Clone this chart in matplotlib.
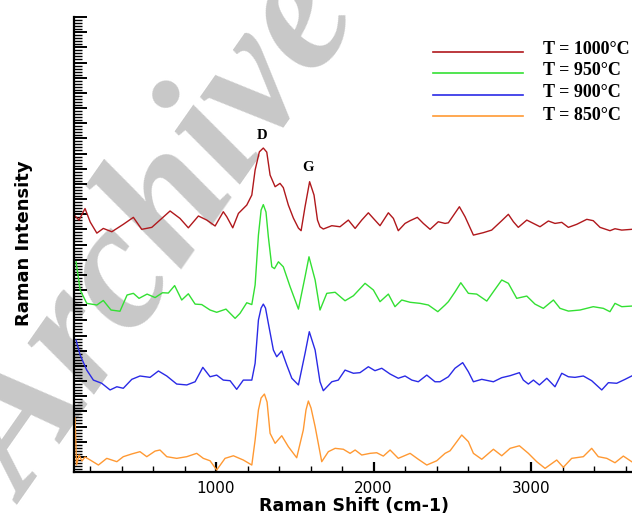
import matplotlib
matplotlib.use("Agg")
import matplotlib.pyplot as plt
from matplotlib.lines import Line2D
from matplotlib.ticker import MultipleLocator

# Raman spectra (intensity in arbitrary units, offset per temperature)
x_1000 = [105, 130, 168, 201, 243, 284, 338, 411, 475, 528, 592, 708, 771, 824, 888, 941,
          994, 1046, 1068, 1106, 1142, 1195, 1227, 1248, 1275, 1300, 1322, 1343, 1375, 1406,
          1427, 1459, 1491, 1523, 1540, 1565, 1594, 1622, 1644, 1660, 1681, 1735, 1787, 1840,
          1883, 1925, 1967, 1999, 2041, 2094, 2126, 2157, 2200, 2232, 2278, 2316, 2359, 2411,
          2454, 2475, 2545, 2581, 2634, 2697, 2750, 2814, 2856, 2888, 2919, 2973, 3057, 3110,
          3152, 3195, 3237, 3290, 3354, 3395, 3438, 3501, 3533, 3576, 3639]
y_1000 = [16.88, 16.61, 17.37, 16.48, 15.75, 16.06, 15.84, 16.33, 16.79, 16.00, 16.13, 17.21,
          16.72, 16.10, 16.88, 16.61, 16.22, 17.16, 16.83, 16.10, 17.05, 17.60, 18.26, 19.91,
          21.11, 21.36, 21.09, 19.58, 18.81, 19.03, 18.75, 17.60, 16.74, 16.08, 15.91, 17.49,
          19.14, 18.26, 16.61, 16.17, 16.02, 16.24, 16.17, 16.61, 16.06, 16.61, 17.09, 16.72,
          16.24, 17.09, 16.72, 15.91, 16.39, 16.57, 16.79, 16.39, 16.00, 16.50, 16.39, 16.43,
          17.49, 16.83, 15.62, 15.78, 15.95, 16.57, 16.99, 16.50, 16.13, 16.61, 16.17, 16.55,
          16.39, 16.46, 16.13, 16.33, 16.66, 16.57, 16.13, 15.91, 16.04, 15.95, 16.00]

x_950 = [111, 137, 179, 243, 284, 333, 390, 435, 475, 511, 562, 613, 660, 697, 737, 782, 824,
         867, 909, 962, 1004, 1063, 1121, 1152, 1195, 1227, 1248, 1269, 1286, 1300, 1317, 1332,
         1354, 1371, 1396, 1427, 1470, 1523, 1565, 1590, 1629, 1660, 1703, 1756, 1819, 1872,
         1946, 1999, 2041, 2094, 2136, 2179, 2232, 2295, 2348, 2408, 2454, 2475, 2517, 2554,
         2602, 2655, 2719, 2761, 2814, 2856, 2909, 2973, 3025, 3078, 3142, 3184, 3237, 3311,
         3395, 3459, 3501, 3533, 3576, 3639]
y_950 = [13.86, 12.00, 11.12, 11.01, 11.31, 10.68, 10.60, 11.67, 11.78, 11.45, 11.73, 11.50,
         11.82, 11.80, 12.29, 11.34, 11.75, 11.07, 11.04, 10.68, 10.53, 10.74, 10.13, 10.46,
         11.16, 11.04, 12.33, 15.62, 17.27, 17.63, 17.14, 15.51, 13.53, 13.41, 13.86, 13.53,
         12.22, 10.74, 12.87, 14.19, 12.66, 10.68, 11.78, 11.85, 11.29, 11.62, 12.44, 12.00,
         11.23, 11.73, 10.90, 11.34, 11.19, 11.12, 11.01, 10.57, 11.01, 11.23, 11.87, 12.48,
         11.78, 11.73, 11.27, 11.89, 12.66, 12.44, 11.45, 11.60, 11.07, 10.79, 11.34, 10.79,
         10.61, 10.68, 10.90, 10.79, 10.57, 11.12, 10.90, 10.94]

x_900 = [111, 137, 179, 221, 274, 327, 370, 411, 465, 517, 581, 634, 687, 750, 814, 867, 916,
         962, 1004, 1046, 1089, 1131, 1173, 1227, 1248, 1269, 1286, 1300, 1314, 1332, 1364,
         1385, 1417, 1449, 1481, 1523, 1565, 1592, 1629, 1660, 1681, 1735, 1776, 1819, 1872,
         1914, 1967, 2009, 2052, 2105, 2157, 2200, 2243, 2284, 2338, 2390, 2422, 2475, 2517,
         2566, 2602, 2634, 2687, 2761, 2814, 2867, 2926, 2951, 2983, 3015, 3053, 3100, 3152,
         3195, 3237, 3279, 3332, 3385, 3449, 3491, 3544, 3597, 3639]
y_900 = [8.70, 7.71, 6.72, 6.06, 5.85, 5.41, 5.62, 5.52, 6.11, 6.33, 6.24, 6.66, 6.33, 5.80,
         5.74, 5.95, 6.90, 6.28, 6.39, 6.06, 6.02, 5.45, 6.06, 6.06, 7.17, 10.02, 10.81, 11.07,
         10.81, 9.80, 8.04, 7.60, 7.98, 7.05, 6.18, 5.74, 7.82, 9.25, 8.04, 5.95, 5.36, 5.95,
         6.06, 6.72, 6.51, 6.55, 6.94, 6.68, 6.84, 6.46, 6.18, 6.33, 6.06, 5.95, 6.39, 5.95,
         5.95, 6.28, 6.84, 7.21, 6.61, 5.95, 6.11, 5.95, 6.22, 6.35, 6.55, 6.06, 5.80, 6.06,
         5.74, 6.18, 5.62, 6.51, 6.28, 6.24, 6.33, 6.02, 5.41, 5.89, 5.85, 6.11, 6.33]

x_850 = [105, 114, 130, 149, 168, 201, 253, 306, 370, 411, 465, 517, 560, 613, 644, 687, 750,
         814, 877, 919, 962, 1004, 1057, 1110, 1173, 1227, 1248, 1269, 1286, 1307, 1324, 1343,
         1375, 1417, 1459, 1512, 1554, 1571, 1586, 1603, 1629, 1671, 1713, 1756, 1808, 1851,
         1883, 1925, 1978, 2020, 2062, 2105, 2157, 2232, 2284, 2338, 2401, 2454, 2486, 2560,
         2602, 2634, 2687, 2761, 2814, 2867, 2926, 2983, 3036, 3089, 3163, 3205, 3258, 3332,
         3385, 3427, 3481, 3533, 3586, 3639]
y_850 = [3.56, 0.46, 1.12, 0.73, 0.99, 0.79, 0.46, 0.90, 0.68, 1.01, 1.19, 1.34, 1.01, 1.38,
         1.45, 1.01, 0.90, 1.01, 1.23, 0.90, 0.74, 0.13, 0.90, 1.07, 0.79, 0.46, 2.11, 4.09,
         4.88, 5.14, 4.61, 2.55, 1.89, 2.39, 1.67, 0.94, 2.77, 4.09, 4.68, 4.22, 2.99, 0.68,
         1.34, 1.56, 1.50, 1.23, 1.45, 1.12, 1.23, 1.27, 1.05, 1.45, 0.90, 1.23, 0.84, 0.46,
         0.74, 1.23, 1.40, 2.44, 2.00, 1.23, 0.84, 1.50, 1.07, 1.56, 1.73, 1.23, 0.68, 0.24,
         0.79, 0.31, 0.90, 1.01, 1.56, 1.01, 0.90, 0.61, 1.05, 0.68]

labels = ["T = 1000°C", "T = 950°C", "T = 900°C", "T = 850°C"]
colors = ["#b0181c", "#33e033", "#2a2ae6", "#ff9933"]
peak_names = ["D", "G"]
peak_pos = [(1290, 22.2), (1586, 20.1)]

W, H = 632, 514
fig = plt.figure(figsize=(W / 100, H / 100), dpi=100)
ax = fig.add_axes([74 / W, 42 / H, 558 / W, 455 / H])
ax.patch.set_visible(False)

# watermark behind the axes
fig.text(160 / W, 1 - 238 / H, "Archive", rotation=55, fontsize=132,
         family="Liberation Serif", weight="bold", style="italic",
         color="#c8c8c8", ha="center", va="center", zorder=-1)

series = [(x_1000, y_1000), (x_950, y_950), (x_900, y_900), (x_850, y_850)]
for (xs, ys), c in zip(series, colors):
    ax.plot(xs, ys, color=c, lw=1.0)

for name, (px, py) in zip(peak_names, peak_pos):
    ax.text(px, py, name, ha="center", va="center", fontsize=10.5,
            family="Liberation Serif", weight="bold")

ax.set_xlim(98, 3641)
ax.set_ylim(0, 30)
ax.set_xticks([1000, 2000, 3000])
ax.xaxis.set_minor_locator(MultipleLocator(200))
ax.yaxis.set_major_locator(MultipleLocator(1))
ax.yaxis.set_minor_locator(MultipleLocator(0.2))
ax.set_yticklabels([])
ax.tick_params(axis="y", which="major", direction="in", length=9.5, width=1.4)
ax.tick_params(axis="y", which="minor", direction="in", length=6, width=1.0)
ax.tick_params(axis="x", which="major", direction="in", length=7.5, width=1.6,
               labelsize=11, pad=6.5)
ax.tick_params(axis="x", which="minor", direction="in", length=4.5, width=1.0)
for s in ["top", "right"]:
    ax.spines[s].set_visible(False)
for s in ["left", "bottom"]:
    ax.spines[s].set_linewidth(1.6)

ax.set_xlabel("Raman Shift (cm-1)", fontsize=12.5, weight="bold")
ax.xaxis.set_label_coords(0.502, -0.056)
ax.set_ylabel("Raman Intensity", fontsize=13, weight="bold")
ax.yaxis.set_label_coords(-0.0735, 0.503)

# legend drawn by hand
line_y = [52.3, 72.7, 95, 116]
text_y = [50, 70.5, 92.5, 115.5]
for lab, c, ly, ty in zip(labels, colors, line_y, text_y):
    fig.add_artist(Line2D([433 / W, 523 / W], [1 - ly / H, 1 - ly / H], color=c, lw=1.2))
    fig.text(543 / W, 1 - ty / H, lab, ha="left", va="center", fontsize=13,
             family="Liberation Serif", weight="bold")

fig.savefig("out.png", dpi=100)
